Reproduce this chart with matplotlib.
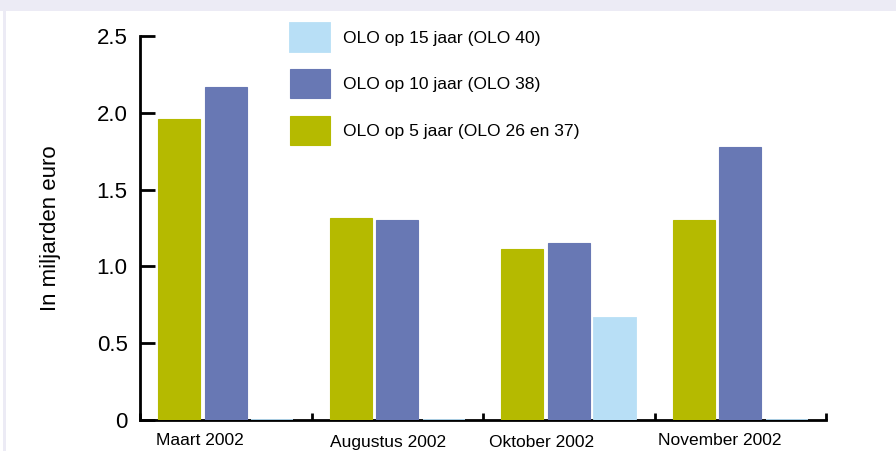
import numpy as np
import matplotlib
matplotlib.use('Agg')
import matplotlib.pyplot as plt
from matplotlib.patches import Rectangle

months = ['Maart 2002', 'Augustus 2002', 'Oktober 2002', 'November 2002']
olo5 = [1.96, 1.315, 1.113, 1.30]
olo10 = [2.17, 1.30, 1.152, 1.777]
olo15 = [0.0, 0.0, 0.664, 0.0]
yticks = [0, 0.5, 1.0, 1.5, 2.0, 2.5]
ytick_labels = ['0', '0.5', '1.0', '1.5', '2.0', '2.5']

green = '#B5BA00'
blue = '#6878B4'
lightblue = '#B8DFF6'
lavender = '#ECEBF5'

plt.rcParams['font.family'] = ['Liberation Sans', 'DejaVu Sans']

fig = plt.figure(figsize=(8.96, 4.51), dpi=100)
fig.patch.set_facecolor('white')
# lavender frame at top and left
fig.patches.append(Rectangle((0, 1 - 11 / 451), 1, 11 / 451, transform=fig.transFigure,
                             facecolor=lavender, edgecolor='none', zorder=0))
fig.patches.append(Rectangle((3 / 896, 0), 3 / 896, 1, transform=fig.transFigure,
                             facecolor=lavender, edgecolor='none', zorder=0))

ax = fig.add_axes([140 / 896, 31 / 451, 686 / 896, 384 / 451])
ax.set_facecolor('none')

idx = np.arange(len(months))
w = 0.245
ax.bar(idx + 0.228, olo5, w, color=green, edgecolor=green, linewidth=0.8, zorder=3,
       label='OLO op 5 jaar (OLO 26 en 37)')
ax.bar(idx + 0.499, olo10, w, color=blue, edgecolor=blue, linewidth=0.8, zorder=3,
       label='OLO op 10 jaar (OLO 38)')
ax.bar(idx + 0.770, olo15, w, color=lightblue, edgecolor=lightblue, linewidth=1.3, zorder=3,
       label='OLO op 15 jaar (OLO 40)')

ax.set_xlim(0, len(months))
ax.set_ylim(0, 2.5)
for s in ['top', 'right']:
    ax.spines[s].set_visible(False)
for s in ['left', 'bottom']:
    ax.spines[s].set_linewidth(2)
    ax.spines[s].set_color('black')

ax.set_yticks(yticks)
ax.set_yticklabels(ytick_labels, fontsize=16)
ax.tick_params(axis='y', direction='in', length=11, width=2, pad=9)

ax.set_xticks(np.arange(len(months) + 1), minor=True)
ax.set_xticks([])
ax.tick_params(axis='x', which='minor', direction='in', length=5, width=2)

# month labels under each group
label_off = [0.35, 0.446, 0.344, 0.382]
label_y = [-0.053, -0.058, -0.058, -0.053]
for i, m in enumerate(months):
    ax.text(i + label_off[i], label_y[i], m, transform=ax.get_xaxis_transform(),
            ha='center', va='center', fontsize=12.5)

ax.set_ylabel('In miljarden euro', fontsize=16)
ax.yaxis.set_label_coords(-0.115, 0.5)

h, l = ax.get_legend_handles_labels()
ax.legend(h[::-1], l[::-1], loc='upper left', bbox_to_anchor=(290 / 896, 1 - 23 / 451),
          bbox_transform=fig.transFigure, frameon=False, fontsize=12.6, borderpad=0,
          borderaxespad=0, handlelength=2.3, handleheight=2.17, labelspacing=1.0,
          handletextpad=0.75)

fig.savefig('out.png', dpi=100)
